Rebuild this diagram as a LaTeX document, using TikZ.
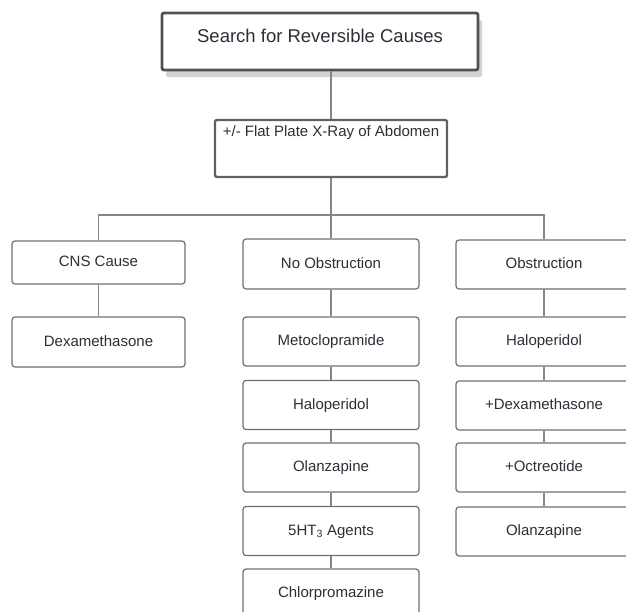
\documentclass[tikz,border=0pt]{standalone}
\usepackage{fontspec}
\setmainfont{Liberation Sans}
\usepackage{tikz}
\usetikzlibrary{positioning,shadows}

\definecolor{boxline}{HTML}{707070}
\definecolor{linkline}{HTML}{858585}
\definecolor{txt}{HTML}{2E2E38}

\begin{document}
\begin{tikzpicture}[x=1pt, y=-1pt,
  topbox/.style={draw=black!68, line width=2.8pt, rounded corners=2pt, fill=white,
    drop shadow={shadow xshift=4pt, shadow yshift=-7pt, fill=black!22, opacity=0.8},
    minimum width=316pt, minimum height=57pt, text height=14pt, text depth=12pt,
    font=\fontsize{18.5}{22}\selectfont, text=txt},
  xraybox/.style={draw=black!62, line width=2.4pt, rounded corners=2pt, fill=white,
    minimum width=232pt, minimum height=57pt, text height=12pt, text depth=37pt,
    inner sep=3pt, font=\fontsize{15}{18}\selectfont, text=txt},
  stepbox/.style={draw=boxline, line width=1.2pt, rounded corners=3pt, fill=white,
    minimum width=176pt, minimum height=49pt, text height=11pt, text depth=3pt,
    font=\fontsize{15}{18}\selectfont, text=txt},
  link/.style={draw=linkline, line width=1.5pt}
]
\useasboundingbox (0,0) rectangle (626,611);
\clip (0,0) rectangle (626,611);

% top of the tree
\node[topbox] (search) at (320, 41.5) {Search for Reversible Causes};
\node[xraybox] (xray) at (331, 148.5) {+/- Flat Plate X-Ray of Abdomen};
\coordinate (split) at (331, 215);

% left branch
\node[stepbox, minimum width=173pt, minimum height=43pt] (cns) at (98.5, 262.5) {CNS Cause};
\node[stepbox, minimum width=173pt, minimum height=50pt] (dexa) at (98.5, 342) {Dexamethasone};

% middle branch
\node[stepbox, minimum height=50pt] (noobs) at (331, 264) {No Obstruction};
\node[stepbox] (meto) at (331, 341.5) {Metoclopramide};
\node[stepbox] (halo) at (331, 405) {Haloperidol};
\node[stepbox] (olan) at (331, 467.5) {Olanzapine};
\node[stepbox] (ht) at (331, 531) {5HT\textsubscript{3} Agents};
\node[stepbox] (chlor) at (331, 593.5) {Chlorpromazine};

% right branch
\node[stepbox] (obs) at (544, 264.5) {Obstruction};
\node[stepbox] (haloB) at (544, 341.5) {Haloperidol};
\node[stepbox] (dexaB) at (544, 405.5) {+Dexamethasone};
\node[stepbox] (octr) at (544, 467.5) {+Octreotide};
\node[stepbox] (olanB) at (544, 531.5) {Olanzapine};

\draw[link] (xray.north |- search.south) -- (xray.north);
\draw[link] (xray) -- (split);
\draw[link] (split) -| (cns.north);
\draw[link] (split) -- (noobs);
\draw[link] (split) -| (obs.north);
\draw[link] (cns) -- (dexa);
\draw[link] (noobs) -- (meto);
\draw[link] (meto) -- (halo);
\draw[link] (halo) -- (olan);
\draw[link] (olan) -- (ht);
\draw[link] (ht) -- (chlor);
\draw[link] (obs) -- (haloB);
\draw[link] (haloB) -- (dexaB);
\draw[link] (dexaB) -- (octr);
\draw[link] (octr) -- (olanB);

\end{tikzpicture}
\end{document}
